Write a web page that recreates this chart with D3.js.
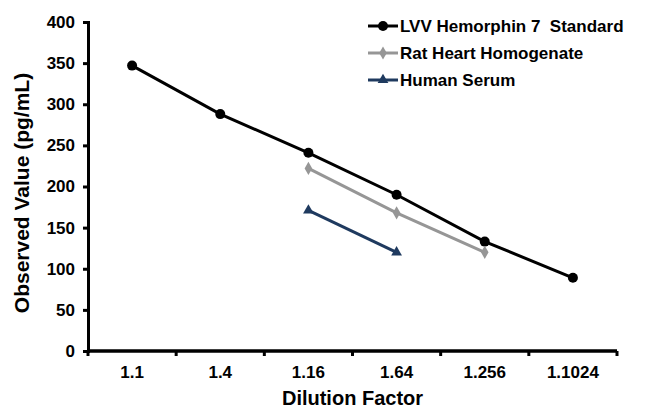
<!DOCTYPE html>
<html>
<head>
<meta charset="utf-8">
<script src="https://cdn.jsdelivr.net/npm/d3@7"></script>
<style>
  body { margin: 0; background: #fff; }
  text { font-family: "Liberation Sans", Arial, sans-serif; font-weight: bold; fill: #000; }
</style>
</head>
<body>
<div id="chart"></div>
<script>
// dilution factors along the x axis, in the order shown
var categories = ['1.1', '1.4', '1.16', '1.64', '1.256', '1.1024'];
var standardValues = [347, 288, 241, 190, 133, 89];
var ratHeartValues = [null, null, 222, 168, 120, null];
var humanSerumValues = [null, null, 171, 120, null, null];
var yTicks = [0, 50, 100, 150, 200, 250, 300, 350, 400];

var series = [
  { name: 'LVV Hemorphin 7  Standard', values: standardValues, color: '#000000', marker: 'circle' },
  { name: 'Rat Heart Homogenate', values: ratHeartValues, color: '#969696', marker: 'diamond' },
  { name: 'Human Serum', values: humanSerumValues, color: '#1f3a5f', marker: 'triangle' }
];

var width = 650, height = 420;
var margin = { top: 22, right: 33, bottom: 69, left: 88 };

var svg = d3
  .select('#chart')
  .append('svg')
  .attr('width', width)
  .attr('height', height);

var g = svg
  .append('g')
  .attr('transform', 'translate(' + margin.left + ',' + margin.top + ')');

var w = width - margin.left - margin.right,
  h = height - margin.top - margin.bottom;

var x = d3.scaleBand().domain(categories).range([0, w]);
var y = d3.scaleLinear().domain([0, 400]).range([h, 0]);

// y axis
var yAxis = g
  .append('g')
  .call(d3.axisLeft(y).tickValues(yTicks).tickSize(5).tickPadding(8));
yAxis.select('.domain').attr('stroke-width', 3).attr('stroke', '#000');
yAxis.selectAll('.tick line').attr('stroke-width', 3);
yAxis.selectAll('.tick text').style('font-size', '17px');

// x axis, ticks on band boundaries
var xAxis = g.append('g').attr('transform', 'translate(0,' + h + ')');
xAxis
  .append('line')
  .attr('x1', 0)
  .attr('x2', w)
  .attr('stroke', '#000')
  .attr('stroke-width', 3.5);
xAxis
  .selectAll('.bound')
  .data(categories.concat(['end']))
  .enter()
  .append('line')
  .attr('x1', (d, i) => i * x.step())
  .attr('x2', (d, i) => i * x.step())
  .attr('y1', 0)
  .attr('y2', 5)
  .attr('stroke', '#000')
  .attr('stroke-width', 3);
xAxis
  .selectAll('.lbl')
  .data(categories)
  .enter()
  .append('text')
  .attr('x', (d) => x(d) + x.bandwidth() / 2)
  .attr('y', 27)
  .attr('text-anchor', 'middle')
  .style('font-size', '17px')
  .text((d) => d);

// axis titles
svg
  .append('text')
  .attr('x', margin.left + w / 2)
  .attr('y', 405)
  .attr('text-anchor', 'middle')
  .style('font-size', '20px')
  .text('Dilution Factor');

svg
  .append('text')
  .attr('transform', 'translate(29,' + 193 + ') rotate(-90)')
  .attr('text-anchor', 'middle')
  .style('font-size', '21px')
  .text('Observed Value (pg/mL)');

function drawMarker(sel, type, color) {
  if (type === 'circle') {
    sel.append('circle').attr('r', 5).attr('fill', color);
  } else if (type === 'diamond') {
    sel.append('path').attr('d', d3.symbol(d3.symbolDiamond, 50)()).attr('fill', color);
  } else {
    sel.append('path').attr('d', d3.symbol(d3.symbolTriangle, 50)()).attr('fill', color);
  }
}

var line = d3
  .line()
  .defined((d) => d.v != null)
  .x((d) => x(d.c) + x.bandwidth() / 2)
  .y((d) => y(d.v));

series.forEach(function (s) {
  var pts = categories.map((c, i) => ({ c: c, v: s.values[i] }));
  g.append('path')
    .datum(pts)
    .attr('fill', 'none')
    .attr('stroke', s.color)
    .attr('stroke-width', 3)
    .attr('d', line);
  g.selectAll(null)
    .data(pts.filter((d) => d.v != null))
    .enter()
    .append('g')
    .attr('transform', (d) => 'translate(' + (x(d.c) + x.bandwidth() / 2) + ',' + y(d.v) + ')')
    .each(function () {
      drawMarker(d3.select(this), s.marker, s.color);
    });
});

// legend
var legend = svg.append('g').attr('transform', 'translate(368,26)');
series.forEach(function (s, i) {
  var row = legend.append('g').attr('transform', 'translate(0,' + i * 27 + ')');
  row
    .append('line')
    .attr('x1', 0)
    .attr('x2', 30)
    .attr('stroke', s.color)
    .attr('stroke-width', 3);
  drawMarker(row.append('g').attr('transform', 'translate(15,0)'), s.marker, s.color);
  row
    .append('text')
    .attr('x', 32)
    .attr('y', 6)
    .style('font-size', '17px')
    .style('white-space', 'pre')
    .text(s.name);
});
</script>
</body>
</html>
